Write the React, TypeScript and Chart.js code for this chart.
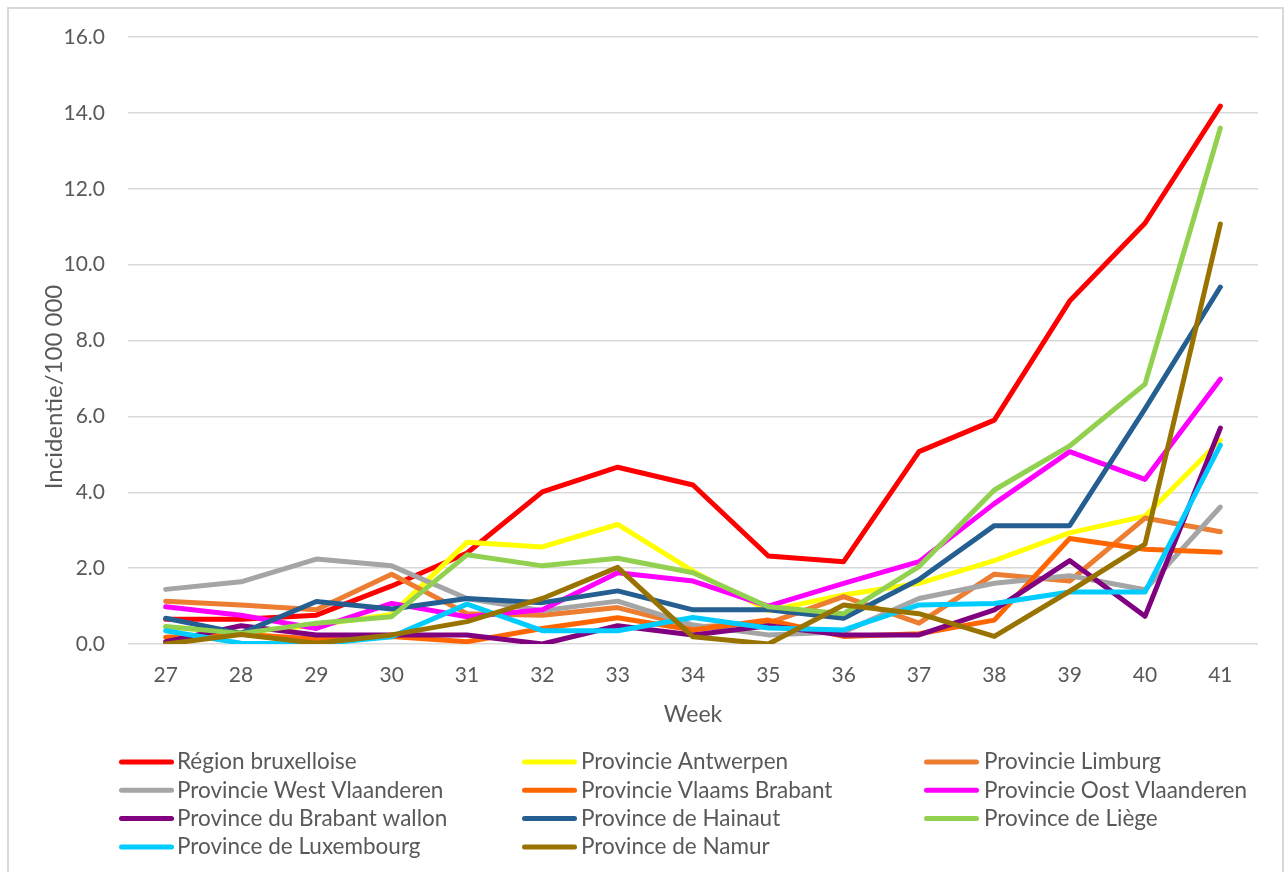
import React, { useEffect, useRef } from 'react';
import { Chart, registerables } from 'chart.js';

Chart.register(...registerables);

// ---------- data ----------
const weeks = ['27', '28', '29', '30', '31', '32', '33', '34', '35', '36', '37', '38', '39', '40', '41'];

const seriesNames = [
  'Région bruxelloise',
  'Provincie Antwerpen',
  'Provincie Limburg',
  'Provincie West Vlaanderen',
  'Provincie Vlaams Brabant',
  'Provincie Oost Vlaanderen',
  'Province du Brabant wallon',
  'Province de Hainaut',
  'Province de Liège',
  'Province de Luxembourg',
  'Province de Namur',
];

const seriesColors = [
  '#FF0000',
  '#FFFF00',
  '#ED7D31',
  '#A5A5A5',
  '#FF6600',
  '#FF00FF',
  '#800080',
  '#255E91',
  '#92D050',
  '#00CCFF',
  '#997300',
];

const bruxelles = [0.65, 0.65, 0.76, 1.53, 2.4, 4.01, 4.66, 4.19, 2.32, 2.17, 5.07, 5.9, 9.04, 11.09, 14.18];
const antwerpen = [0.45, 0.3, 0.5, 0.78, 2.68, 2.56, 3.15, 1.92, 0.88, 1.29, 1.6, 2.2, 2.93, 3.37, 5.37];
const limburg = [1.13, 1.03, 0.9, 1.84, 0.8, 0.76, 0.96, 0.45, 0.55, 1.25, 0.55, 1.84, 1.66, 3.32, 2.96];
const westVlaanderen = [1.44, 1.64, 2.24, 2.06, 1.2, 0.88, 1.13, 0.5, 0.24, 0.32, 1.2, 1.6, 1.8, 1.43, 3.61];
const vlaamsBrabant = [0.18, 0.26, 0.13, 0.2, 0.06, 0.41, 0.69, 0.37, 0.63, 0.2, 0.27, 0.63, 2.78, 2.5, 2.42];
const oostVlaanderen = [0.98, 0.76, 0.41, 1.07, 0.72, 0.9, 1.88, 1.66, 1.0, 1.6, 2.17, 3.7, 5.07, 4.34, 6.98];
const brabantWallon = [0.06, 0.48, 0.24, 0.24, 0.24, 0.0, 0.48, 0.24, 0.48, 0.24, 0.24, 0.9, 2.2, 0.73, 5.69];
const hainaut = [0.68, 0.28, 1.12, 0.92, 1.2, 1.09, 1.4, 0.9, 0.9, 0.68, 1.7, 3.12, 3.12, 6.2, 9.41];
const liege = [0.46, 0.28, 0.55, 0.72, 2.35, 2.06, 2.26, 1.88, 0.98, 0.8, 2.04, 4.06, 5.22, 6.85, 13.6];
const luxembourg = [0.35, 0.02, 0.0, 0.19, 1.05, 0.35, 0.35, 0.7, 0.42, 0.37, 1.03, 1.07, 1.37, 1.37, 5.24];
const namur = [0.0, 0.25, 0.02, 0.24, 0.59, 1.2, 2.02, 0.19, 0.0, 1.03, 0.8, 0.2, 1.39, 2.63, 11.07];

const seriesValues = [
  bruxelles, antwerpen, limburg, westVlaanderen, vlaamsBrabant, oostVlaanderen,
  brabantWallon, hainaut, liege, luxembourg, namur,
];

const yMin = 0;
const yMax = 16;
const yStep = 2;
const xTitle = 'Week';
const yTitle = 'Incidentie/100 000';

// ---------- layout ----------
const W = 1287;
const H = 872;
const FONT = 'Lato, "Open Sans", sans-serif';
const TEXT = '#595959';

export default function App() {
  const ref = useRef<HTMLCanvasElement | null>(null);

  useEffect(() => {
    if (!ref.current) return;

    const yTitlePlugin = {
      id: 'yTitle',
      afterDraw(chart: any) {
        const ctx = chart.ctx;
        ctx.save();
        ctx.translate(54, 387);
        ctx.rotate(-Math.PI / 2);
        ctx.font = `24px ${FONT}`;
        ctx.fillStyle = TEXT;
        ctx.textAlign = 'center';
        ctx.textBaseline = 'middle';
        ctx.fillText(yTitle, 0, 0);
        ctx.restore();
      },
    };

    const legendPlugin = {
      id: 'gridLegend',
      afterDraw(chart: any) {
        const ctx = chart.ctx;
        const sampleX = [119, 522, 924];
        const textX = [177, 581, 984];
        ctx.save();
        chart.data.datasets.forEach((ds: any, i: number) => {
          const col = i % 3;
          const row = Math.floor(i / 3);
          const y = 762 + row * 28.3;
          ctx.beginPath();
          ctx.strokeStyle = ds.borderColor;
          ctx.lineWidth = 5;
          ctx.lineCap = 'round';
          ctx.moveTo(sampleX[col] + 2.5, y);
          ctx.lineTo(sampleX[col] + 52.5, y);
          ctx.stroke();
          ctx.font = `22.5px ${FONT}`;
          ctx.fillStyle = TEXT;
          ctx.textAlign = 'left';
          ctx.textBaseline = 'middle';
          ctx.fillText(ds.label, textX[col], y);
        });
        ctx.restore();
      },
    };

    const n = seriesNames.length;
    const chart = new Chart(ref.current, {
      type: 'line',
      data: {
        labels: weeks,
        datasets: seriesNames.map((name, i) => ({
          label: name,
          data: seriesValues[i],
          borderColor: seriesColors[i],
          backgroundColor: seriesColors[i],
          borderWidth: 5,
          pointRadius: 0,
          pointHoverRadius: 0,
          tension: 0,
          fill: false,
          borderJoinStyle: 'round',
          borderCapStyle: 'round',
          order: n - i,
        })),
      },
      options: {
        responsive: false,
        maintainAspectRatio: false,
        devicePixelRatio: 1,
        animation: false,
        layout: { padding: { left: 0, right: 29, top: 37, bottom: 128 } },
        plugins: {
          legend: { display: false },
          tooltip: { enabled: false },
          title: { display: false },
        },
        scales: {
          x: {
            type: 'category',
            offset: true,
            grid: { display: false, drawTicks: false },
            border: { display: false },
            ticks: {
              color: TEXT,
              font: { family: FONT, size: 21 },
              padding: 19,
              maxRotation: 0,
              autoSkip: false,
            },
            title: {
              display: true,
              text: xTitle,
              color: TEXT,
              font: { family: FONT, size: 23 },
              padding: { top: 0, bottom: 16 },
            },
            afterFit(scale: any) {
              scale.height = 100;
            },
          },
          y: {
            min: yMin,
            max: yMax,
            grid: { color: '#D9D9D9', lineWidth: 1.5, drawTicks: false },
            border: { display: false },
            ticks: {
              stepSize: yStep,
              color: TEXT,
              font: { family: FONT, size: 21 },
              padding: 23,
              callback: (v: any) => Number(v).toFixed(1),
            },
            afterFit(scale: any) {
              scale.width = 128;
            },
          },
        },
      },
      plugins: [yTitlePlugin, legendPlugin],
    } as any);

    return () => chart.destroy();
  }, []);

  return (
    <div style={{ position: 'fixed', left: 0, top: 0, width: W, height: H, background: '#ffffff', overflow: 'hidden' }}>
      <canvas ref={ref} width={W} height={H} style={{ display: 'block', width: W, height: H }} />
      <div
        style={{
          position: 'absolute',
          left: 7,
          top: 7,
          width: 1277,
          height: 900,
          border: '2px solid #D9D9D9',
          boxSizing: 'border-box',
          pointerEvents: 'none',
        }}
      />
    </div>
  );
}
